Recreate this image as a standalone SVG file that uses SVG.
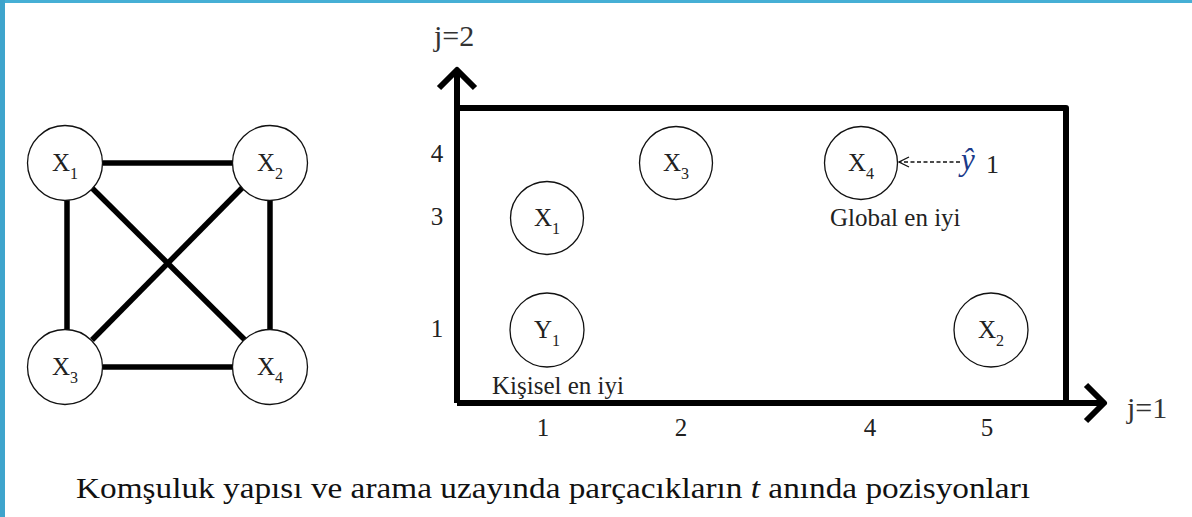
<svg xmlns="http://www.w3.org/2000/svg" width="1192" height="517" viewBox="0 0 1192 517">
<style>
.n{fill:#fff;stroke:#111;stroke-width:1.3}
text{fill:#222}
.lab{font-size:25px;text-anchor:middle}
.sub{font-size:16px}
.e{stroke:#000;stroke-width:5.5;stroke-linecap:butt}
.ax{stroke:#000;stroke-width:6;fill:none;stroke-linejoin:round}
.tick{font-size:25px;text-anchor:middle}
</style>
<defs>
<marker id="open" viewBox="0 0 12 12" refX="11" refY="6" markerWidth="12" markerHeight="12" markerUnits="userSpaceOnUse" orient="auto">
<path d="M1 1 L11 6 L1 11" fill="none" stroke="#111" stroke-width="1.3"/>
</marker>
</defs>
<rect width="1192" height="517" fill="#fff"/>
<rect x="0" y="0" width="1192" height="3" fill="#46afd5"/>
<rect x="0" y="0" width="5" height="517" fill="#3ea4cc"/>
<g font-family="Liberation Serif, Times New Roman, serif">
<g id="graph-edges">
<line class="e" x1="103" y1="163" x2="233" y2="163"/>
<line class="e" x1="103" y1="367" x2="233" y2="367"/>
<line class="e" x1="67" y1="198" x2="67" y2="332"/>
<line class="e" x1="270" y1="198" x2="270" y2="332"/>
<line class="e" x1="92" y1="188" x2="245" y2="340"/>
<line class="e" x1="243" y1="187" x2="92" y2="340"/>
</g>
<g id="g-x1"><circle class="n" cx="65" cy="163" r="37.5"/><text class="lab" x="65" y="171">X<tspan class="sub" dy="8">1</tspan></text></g>
<g id="g-x2"><circle class="n" cx="270" cy="163" r="37.5"/><text class="lab" x="270" y="171">X<tspan class="sub" dy="8">2</tspan></text></g>
<g id="g-x3"><circle class="n" cx="65" cy="367" r="37.5"/><text class="lab" x="65" y="375">X<tspan class="sub" dy="8">3</tspan></text></g>
<g id="g-x4"><circle class="n" cx="270" cy="367" r="37.5"/><text class="lab" x="270" y="375">X<tspan class="sub" dy="8">4</tspan></text></g>

<g id="axes">
<path class="ax" d="M457 403 L457 70"/>
<path class="ax" d="M439 88 L457 70 L475 88"/>
<path class="ax" d="M457 108 L1066 108 L1066 403"/>
<path class="ax" d="M457 403 L1104 403"/>
<path class="ax" d="M1086 385 L1104 403 L1086 421"/>
</g>
<text x="434" y="46" style="font-size:30px;fill:#333">j=2</text>
<text x="1127" y="418" style="font-size:30px;fill:#333">j=1</text>

<g id="yticks">
<text class="tick" x="437" y="162">4</text>
<text class="tick" x="437" y="225">3</text>
<text class="tick" x="437" y="337">1</text>
</g>
<g id="xticks">
<text class="tick" x="543" y="436">1</text>
<text class="tick" x="681" y="436">2</text>
<text class="tick" x="870" y="436">4</text>
<text class="tick" x="987" y="436">5</text>
</g>

<g id="p-x3"><circle class="n" cx="676" cy="163" r="36.5"/><text class="lab" x="676" y="171">X<tspan class="sub" dy="8">3</tspan></text></g>
<g id="p-x4"><circle class="n" cx="861" cy="163" r="36.5"/><text class="lab" x="861" y="171">X<tspan class="sub" dy="8">4</tspan></text></g>
<g id="p-x1"><circle class="n" cx="547" cy="218" r="36.5"/><text class="lab" x="547" y="226">X<tspan class="sub" dy="8">1</tspan></text></g>
<g id="p-y1"><circle class="n" cx="547" cy="330" r="37"/><text class="lab" x="547" y="338">Y<tspan class="sub" dy="8">1</tspan></text></g>
<g id="p-x2"><circle class="n" cx="991" cy="330" r="37"/><text class="lab" x="991" y="338">X<tspan class="sub" dy="8">2</tspan></text></g>

<text x="830" y="226" style="font-size:25px">Global en iyi</text>
<text x="492" y="394" style="font-size:25px">Kişisel en iyi</text>

<g id="connectors">
<line x1="960" y1="162" x2="899" y2="162" stroke="#111" stroke-width="1.5" stroke-dasharray="4,2.5" marker-end="url(#open)"/>
</g>
<text x="961" y="170" style="font-size:31px;font-style:italic;fill:#1a3a8a">ŷ</text>
<text x="986" y="173" style="font-size:26px">1</text>

<text x="76" y="498" textLength="954" lengthAdjust="spacingAndGlyphs" style="font-size:29px;fill:#111">Komşuluk yapısı ve arama uzayında parçacıkların <tspan style="font-style:italic">t</tspan> anında pozisyonları</text>
</g>
</svg>
